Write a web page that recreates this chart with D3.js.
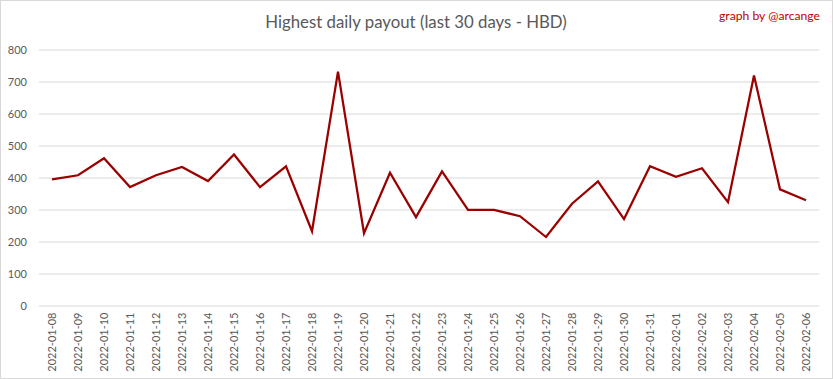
<!DOCTYPE html>
<html><head><meta charset="utf-8">
<script src="https://cdn.jsdelivr.net/npm/d3@7"></script>
<style>html,body{margin:0;padding:0;background:#fff;}svg{display:block;}</style>
</head><body>
<script>
const dates = ["2022-01-08","2022-01-09","2022-01-10","2022-01-11","2022-01-12","2022-01-13","2022-01-14","2022-01-15","2022-01-16","2022-01-17","2022-01-18","2022-01-19","2022-01-20","2022-01-21","2022-01-22","2022-01-23","2022-01-24","2022-01-25","2022-01-26","2022-01-27","2022-01-28","2022-01-29","2022-01-30","2022-01-31","2022-02-01","2022-02-02","2022-02-03","2022-02-04","2022-02-05","2022-02-06"];
const payouts = [394,407,460,370,407,433,389,472,370,435,232,731,226,415,276,419,299,299,279,214,318,388,270,435,402,429,323,719,363,329];
const yTicks = [0,100,200,300,400,500,600,700,800];
const title = "Highest daily payout (last 30 days - HBD)";
const credit = "graph by @arcange";

const W = 833, H = 379;
const svg = d3.select("body").append("svg").attr("width", W).attr("height", H);
svg.append("rect").attr("x",0.5).attr("y",0.5).attr("width",W-1).attr("height",H-1)
  .attr("fill","#fff").attr("stroke","#d9d9d9");

const mLeft = 39, mRight = 819, mTop = 49.5, mBottom = 305.5;
const x = d3.scaleBand().domain(dates).range([mLeft, mRight]);
const y = d3.scaleLinear().domain([0, 800]).range([mBottom, mTop]);
const font = "Lato, 'Open Sans', sans-serif";

const yAxis = svg.append("g").attr("transform", `translate(${mLeft},0)`)
  .call(d3.axisLeft(y).tickValues(yTicks).tickSize(-(mRight-mLeft)).tickPadding(12));
yAxis.select(".domain").remove();
yAxis.selectAll("line").attr("stroke","#d9d9d9");
yAxis.selectAll("text").attr("fill","#595959").style("font-family",font).style("font-size","11px");

const xAxis = svg.append("g").attr("transform", `translate(0,${mBottom})`)
  .call(d3.axisBottom(x).tickSize(0).tickPadding(0));
xAxis.select(".domain").remove();
xAxis.selectAll("text")
  .attr("transform","rotate(-90)")
  .attr("x",-7).attr("y",0).attr("dy","0.35em")
  .attr("text-anchor","end")
  .attr("fill","#595959").style("font-family",font).style("font-size","11px");

const line = d3.line().x((d,i)=>x(dates[i]) + x.bandwidth()/2).y(d=>y(d));
svg.append("path").datum(payouts).attr("d", line)
  .attr("fill","none").attr("stroke","#9b0000").attr("stroke-width",2.25).attr("stroke-linejoin","miter");

svg.append("text").attr("x", 416).attr("y", 28).attr("text-anchor","middle")
  .attr("fill","#595959").style("font-family",font).style("font-size","16.8px").text(title);
svg.append("text").attr("x", 820).attr("y", 20).attr("text-anchor","end")
  .attr("fill","#c00000").style("font-family",font).style("font-size","12.2px").text(credit);
</script>
</body></html>
